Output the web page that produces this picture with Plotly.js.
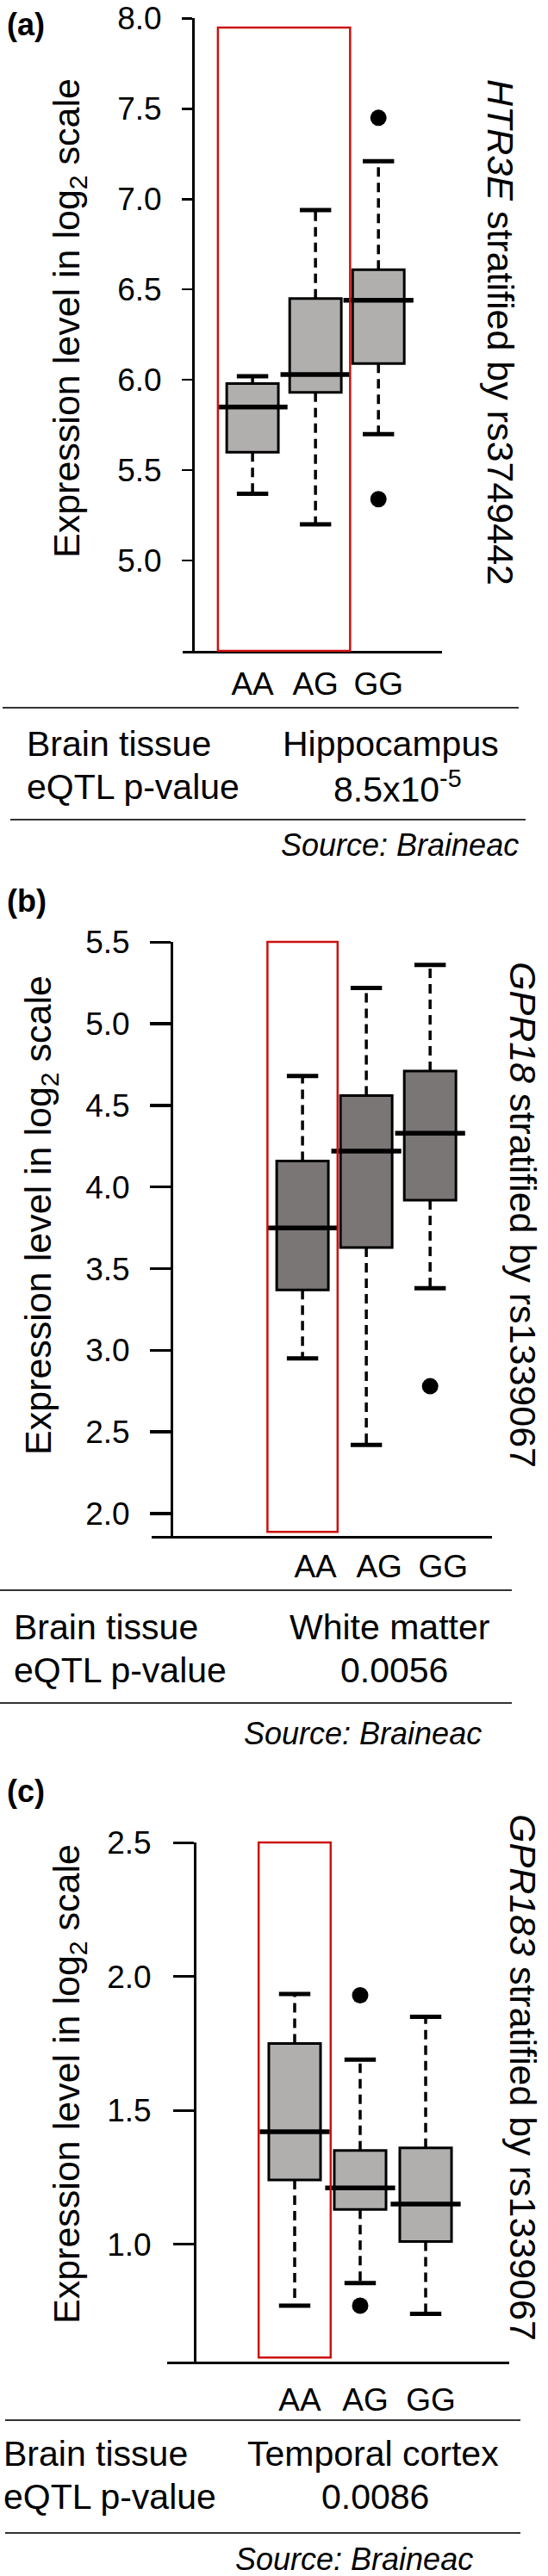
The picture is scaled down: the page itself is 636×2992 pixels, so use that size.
<!DOCTYPE html>
<html>
<head>
<meta charset="utf-8">
<script src="https://cdn.plot.ly/plotly-3.0.1.min.js"></script>
<style>
html,body{margin:0;padding:0;background:#fff;}
#chart{width:636px;height:2992px;}
</style>
</head>
<body>
<div id="chart"></div>
<script>
// ---------------- DATA ----------------
const genotypes = ["AA", "AG", "GG"];

// Panel (a): HTR3E by rs3749442, Hippocampus
const aQ1     = [5.60, 5.93, 6.09];
const aMedian = [5.85, 6.03, 6.44];
const aQ3     = [5.98, 6.45, 6.61];
const aLower  = [5.37, 5.20, 5.70];
const aUpper  = [6.02, 6.94, 7.21];
const aOutX   = ["GG", "GG"];
const aOutY   = [7.45, 5.34];
const aTicks  = [5.0, 5.5, 6.0, 6.5, 7.0, 7.5, 8.0];

// Panel (b): GPR18 by rs1339067, White matter
const bQ1     = [3.37, 3.63, 3.92];
const bMedian = [3.75, 4.22, 4.33];
const bQ3     = [4.16, 4.56, 4.71];
const bLower  = [2.95, 2.42, 3.38];
const bUpper  = [4.68, 5.22, 5.36];
const bOutX   = ["GG"];
const bOutY   = [2.78];
const bTicks  = [2.0, 2.5, 3.0, 3.5, 4.0, 4.5, 5.0, 5.5];

// Panel (c): GPR183 by rs1339067, Temporal cortex
const cQ1     = [1.24, 1.13, 1.01];
const cMedian = [1.42, 1.21, 1.15];
const cQ3     = [1.75, 1.35, 1.36];
const cLower  = [0.77, 0.855, 0.74];
const cUpper  = [1.935, 1.69, 1.85];
const cOutX   = ["AG", "AG"];
const cOutY   = [1.93, 0.77];
const cTicks  = [1.0, 1.5, 2.0, 2.5];

// highlighted genotype ranges (first..last)
const aHighlight = ["AA", "AG"];
const bHighlight = ["AA", "AA"];
const cHighlight = ["AA", "AA"];

// table texts
const tableLabels = ["Brain tissue", "eQTL p-value"];
const aTissue = "Hippocampus",     aPvalue = "8.5x10<sup>-5</sup>";
const bTissue = "White matter",    bPvalue = "0.0056";
const cTissue = "Temporal cortex", cPvalue = "0.0086";
const sourceText = "<i>Source: Braineac</i>";
const aGene = "<i>HTR3E</i> stratified by rs3749442";
const bGene = "<i>GPR18</i> stratified by rs1339067";
const cGene = "<i>GPR183</i> stratified by rs1339067";
const yTitle = "Expression level in log<sub>2</sub> scale";

// ---------------- HELPERS ----------------
const W = 636, H = 2992;
const fx = px => px / W;
const fy = py => 1 - py / H;
const FONT = "Liberation Sans, Arial, Helvetica, sans-serif";

const traces = [];
function panel(s, q1, med, q3, lo, hi, outX, outY, fill, bw, medPx) {
  const xa = "x" + s, ya = "y" + s;
  traces.push({
    type: "box", x: genotypes, q1: q1, median: med, q3: q3,
    lowerfence: q1, upperfence: q3,
    fillcolor: fill, line: {color: "#000", width: 3},
    width: bw, whiskerwidth: 0, boxpoints: false,
    xaxis: xa, yaxis: ya, hoverinfo: "skip", showlegend: false
  });
  const wx = [], wy = [];
  genotypes.forEach((g, i) => {
    wx.push(g, g, null, g, g, null);
    wy.push(q3[i], hi[i], null, q1[i], lo[i], null);
  });
  traces.push({
    type: "scatter", mode: "lines", x: wx, y: wy, connectgaps: false,
    line: {color: "#000", width: 3.5, dash: "11px,7px"},
    xaxis: xa, yaxis: ya, hoverinfo: "skip", showlegend: false
  });
  traces.push({
    type: "scatter", mode: "markers", x: genotypes.concat(genotypes), y: hi.concat(lo),
    marker: {symbol: "line-ew", size: 26, color: "#000", line: {width: 5, color: "#000"}},
    xaxis: xa, yaxis: ya, hoverinfo: "skip", showlegend: false
  });
  traces.push({
    type: "scatter", mode: "markers", x: genotypes, y: med,
    marker: {symbol: "line-ew", size: medPx, color: "#000", line: {width: 5.5, color: "#000"}},
    xaxis: xa, yaxis: ya, hoverinfo: "skip", showlegend: false
  });
  traces.push({
    type: "scatter", mode: "markers", x: outX, y: outY,
    marker: {symbol: "circle", size: 19, color: "#000"},
    xaxis: xa, yaxis: ya, hoverinfo: "skip", showlegend: false
  });
}
panel("",  aQ1, aMedian, aQ3, aLower, aUpper, aOutX, aOutY, "#b1aeae", 0.82, 58);
panel("2", bQ1, bMedian, bQ3, bLower, bUpper, bOutX, bOutY, "#7a7675", 0.81, 58);
panel("3", cQ1, cMedian, cQ3, cLower, cUpper, cOutX, cOutY, "#b1aeae", 0.79, 58);

function xAxis(anchor, d0, d1, r0, r1, standoff, shift) {
  return {
    domain: [fx(d0), fx(d1)], anchor: anchor, type: "category",
    categoryorder: "array", categoryarray: genotypes,
    range: [r0, r1], showline: true, linecolor: "#000", linewidth: 3,
    ticks: "", showgrid: false, zeroline: false, fixedrange: true,
    tickfont: {size: 37, color: "#000", family: FONT},
    ticklabelstandoff: standoff, ticklabelshift: shift,
    ticklabeloverflow: "allow"
  };
}
function yAxis(pos, top, bottom, r0, r1, ticks, ticklen, tw, standoff) {
  return {
    domain: [fy(bottom), fy(top)], anchor: "free", position: fx(pos),
    range: [r0, r1], tickmode: "array", tickvals: ticks, ticktext: ticks.map(v => v.toFixed(1)),
    ticks: "outside", ticklen: ticklen, tickwidth: tw, tickcolor: "#000",
    showline: true, linecolor: "#000", linewidth: 3,
    showgrid: false, zeroline: false, fixedrange: true,
    tickfont: {size: 37, color: "#000", family: FONT}, ticklabelstandoff: standoff,
    ticklabeloverflow: "allow"
  };
}

const pad = 0.55;
function idx(g) { return genotypes.indexOf(g); }
function redBox(s, hl, yTopFrac, yBotFrac) {
  return {
    type: "rect", xref: "x" + s, yref: "y" + s + " domain",
    x0: idx(hl[0]) - pad, x1: idx(hl[1]) + pad, y0: yBotFrac, y1: yTopFrac,
    line: {color: "#cc1010", width: 2.5}, fillcolor: "rgba(0,0,0,0)", layer: "above"
  };
}
function hline(y, x0, x1) {
  return {type: "line", xref: "paper", yref: "paper", x0: fx(x0), x1: fx(x1), y0: fy(y), y1: fy(y),
          line: {color: "#333", width: 2}};
}

const annotations = [];
function ann(text, x, y, o) {
  annotations.push(Object.assign({
    text: text, x: fx(x), y: fy(y), xref: "paper", yref: "paper", showarrow: false,
    xanchor: "center", yanchor: "middle",
    font: {family: FONT, size: 41, color: "#000"}
  }, o || {}));
}

// panel labels
ann("<b>(a)</b>", 6, 29, {xanchor: "left", font: {family: FONT, size: 36, color: "#000"}});
ann("<b>(b)</b>", 6, 1046, {xanchor: "left", font: {family: FONT, size: 36, color: "#000"}});
ann("<b>(c)</b>", 6, 2080, {xanchor: "left", font: {family: FONT, size: 36, color: "#000"}});
// y titles
ann(yTitle, 80, 370, {textangle: -90, font: {family: FONT, size: 43, color: "#000"}});
ann(yTitle, 47, 1412, {textangle: -90, font: {family: FONT, size: 43, color: "#000"}});
ann(yTitle, 80, 2421, {textangle: -90, font: {family: FONT, size: 43, color: "#000"}});
// right titles
ann(aGene, 581, 386, {textangle: 90, font: {family: FONT, size: 43, color: "#000"}});
ann(bGene, 607, 1411, {textangle: 90, font: {family: FONT, size: 43, color: "#000"}});
ann(cGene, 607, 2413, {textangle: 90, font: {family: FONT, size: 43, color: "#000"}});
// tables
ann(tableLabels[0], 29, 864, {xanchor: "left"});
ann(tableLabels[1], 29, 914, {xanchor: "left"});
ann(aTissue, 454, 864);
ann(aPvalue, 461, 914);
ann(sourceText, 604, 982, {xanchor: "right", font: {family: FONT, size: 36, color: "#000"}});

ann(tableLabels[0], 14, 1890, {xanchor: "left"});
ann(tableLabels[1], 14, 1940, {xanchor: "left"});
ann(bTissue, 452, 1890);
ann(bPvalue, 457, 1940);
ann(sourceText, 561, 2013, {xanchor: "right", font: {family: FONT, size: 36, color: "#000"}});

ann(tableLabels[0], 2, 2850, {xanchor: "left"});
ann(tableLabels[1], 2, 2900, {xanchor: "left"});
ann(cTissue, 433, 2850);
ann(cPvalue, 435, 2900);
ann(sourceText, 551, 2972, {xanchor: "right", font: {family: FONT, size: 36, color: "#000"}});

const shapes = [
  redBox("",  aHighlight, 0.985, 0.0),
  redBox("2", bHighlight, 1.0, 0.007),
  redBox("3", cHighlight, 1.0, 0.008),
  hline(822, 3, 602), hline(952, 12, 610),
  hline(1847, 0, 594), hline(1978, 0, 594),
  hline(2811, 6, 604), hline(2942, 6, 604)
];

const layout = {
  width: W, height: H, margin: {l: 0, r: 0, t: 0, b: 0, pad: 0},
  paper_bgcolor: "#fff", plot_bgcolor: "rgba(0,0,0,0)",
  showlegend: false, hovermode: false,
  font: {family: FONT, color: "#000"},
  xaxis:  xAxis("y",  212, 513, -1.11, 3.01, 4, 0),
  yaxis:  yAxis(224, 21, 756, 4.5, 8.002, aTicks, 12, 2.5, 16),
  xaxis2: xAxis("y2", 176, 571, -2.365, 2.97, 1, 15),
  yaxis2: yAxis(199, 1094, 1784, 1.863, 5.5015, bTicks, 24, 3.5, 16),
  xaxis3: xAxis("y3", 194, 591, -1.947, 3.276, 10, 6),
  yaxis3: yAxis(226, 2140, 2743, 0.561, 2.5015, cTicks, 24, 3, 18),
  shapes: shapes,
  annotations: annotations
};

Plotly.newPlot("chart", traces, layout, {displayModeBar: false, staticPlot: true});
</script>
</body>
</html>
